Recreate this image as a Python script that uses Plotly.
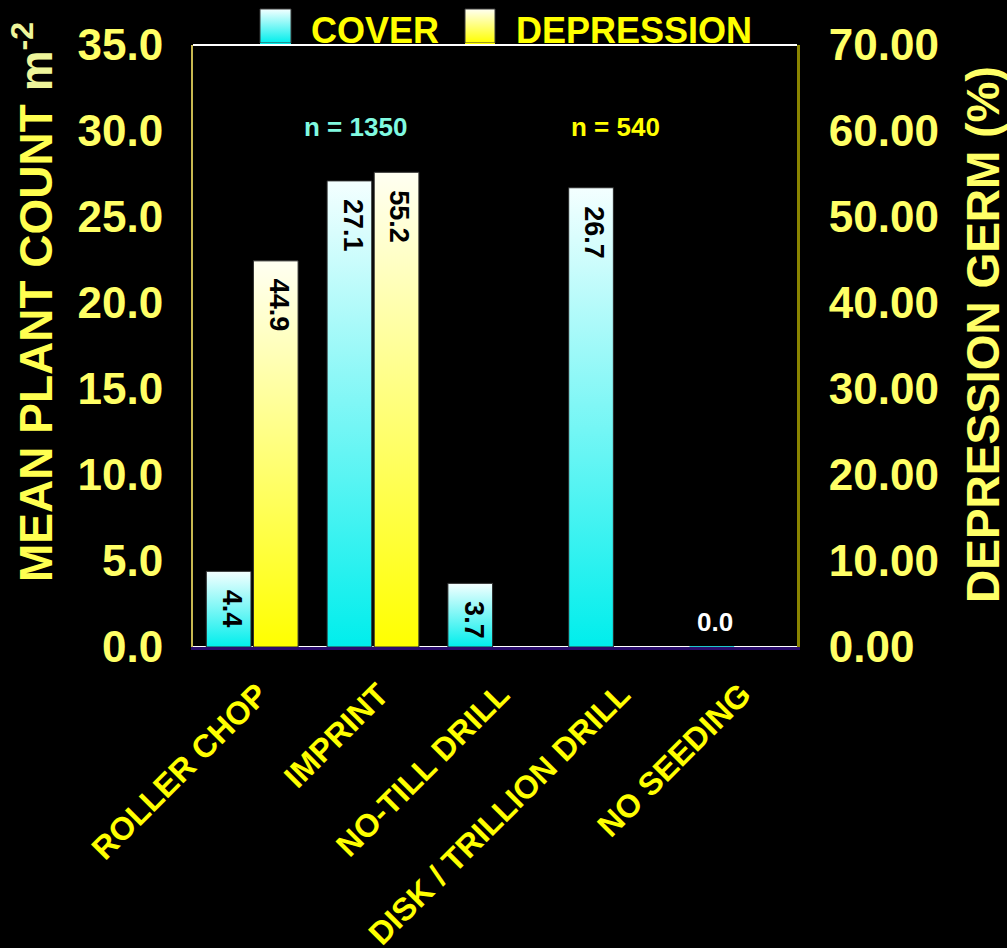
import plotly.graph_objects as go

# ---------------- data ----------------
categories = ["ROLLER CHOP", "IMPRINT", "NO-TILL DRILL", "DISK / TRILLION DRILL", "NO SEEDING"]
cover = [4.4, 27.1, 3.7, 26.7, 0.0]            # mean plant count m^-2 (left axis)
depression = [44.9, 55.2, None, None, None]     # depression germ % (right axis)
left_ticks = [0, 5, 10, 15, 20, 25, 30, 35]
right_ticks = [0, 10, 20, 30, 40, 50, 60, 70]
sample_labels = ["n = 1350", "n = 540"]
series_names = ["COVER", "DEPRESSION"]

# ---------------- layout constants ----------------
W, H = 1007, 948
PL, PR, PT, PB = 193, 797, 45, 647
FONT = "Liberation Sans"
BAR_W = 0.37
COVER_OFF = -0.205
DEPR_OFF = 0.185
CYAN_CS = [[0, "#00EEEC"], [1, "#F4FFFF"]]
YELL_CS = [[0, "#FFFF00"], [1, "#FFFFF2"]]

fig = go.Figure()


def add_bar(xc, v, yaxis, cs, edge):
    x0, x1 = xc - BAR_W / 2, xc + BAR_W / 2
    kw = dict(x=[x0, x0, x1, x1, x0], y=[0, v, v, 0, 0], mode="lines",
              fill="toself", xaxis="x", yaxis=yaxis, hoverinfo="skip",
              showlegend=False)
    if v > 0:
        kw["fillgradient"] = dict(type="vertical", colorscale=cs)
        kw["line"] = dict(color="#2a2a2a", width=1)
    else:
        kw["fillcolor"] = cs[0][1]
        kw["line"] = dict(color=edge, width=2)
    fig.add_trace(go.Scatter(**kw))


annotations = []


def add_label(xc, v, yref):
    if v > 0:
        annotations.append(dict(x=xc, y=v, xref="x", yref=yref, text=f"{v:.1f}",
                                textangle=90, yanchor="top", xanchor="center",
                                yshift=-16, xshift=3, showarrow=False,
                                font=dict(family=FONT, size=27, color="black", weight="bold")))
    else:
        annotations.append(dict(x=xc, y=v, xref="x", yref=yref, text=f"{v:.1f}",
                                yanchor="bottom", xanchor="center", yshift=8, xshift=3,
                                showarrow=False,
                                font=dict(family=FONT, size=26, color="white", weight="bold")))


for i, v in enumerate(cover):
    if v is None:
        continue
    add_bar(i + COVER_OFF, v, "y", CYAN_CS, "#20C8C8")
    add_label(i + COVER_OFF, v, "y")

for i, v in enumerate(depression):
    if v is None:
        continue
    add_bar(i + DEPR_OFF, v, "y2", YELL_CS, "#E0E000")
    add_label(i + DEPR_OFF, v, "y2")

# ---------------- legend (custom swatches on a full-page overlay axis) ----------------
legend_items = [(series_names[0], CYAN_CS, 260, 291, 375), (series_names[1], YELL_CS, 465, 495, 634)]
for name, cs, sx0, sx1, tx in legend_items:
    fig.add_trace(go.Scatter(x=[sx0, sx0, sx1, sx1, sx0], y=[43, 9, 9, 43, 43], mode="lines",
                             fill="toself", fillgradient=dict(type="vertical", colorscale=cs),
                             line=dict(color="#3a3a3a", width=1), xaxis="x3", yaxis="y3",
                             hoverinfo="skip", showlegend=False))
    fig.add_trace(go.Scatter(x=[sx0, sx1], y=[44, 44], mode="lines",
                             line=dict(color=cs[0][1], width=2), xaxis="x3", yaxis="y3",
                             hoverinfo="skip", showlegend=False))
    annotations.append(dict(x=tx / W, y=1 - 31 / H, xref="paper", yref="paper", text=name,
                            showarrow=False, xanchor="center", yanchor="middle",
                            font=dict(family=FONT, size=36, color="#FFFF00", weight="bold")))

# sample-size labels
annotations.append(dict(x=355 / W, y=1 - 127 / H, xref="paper", yref="paper", text=sample_labels[0],
                        showarrow=False, xanchor="center", yanchor="middle",
                        font=dict(family=FONT, size=26, color="#80FAE0", weight="bold")))
annotations.append(dict(x=615 / W, y=1 - 127 / H, xref="paper", yref="paper", text=sample_labels[1],
                        showarrow=False, xanchor="center", yanchor="middle",
                        font=dict(family=FONT, size=26, color="#FFFF00", weight="bold")))

# axis titles
annotations.append(dict(x=33 / W, y=1 - 302 / H, xref="paper", yref="paper",
                        text="MEAN PLANT COUNT <span style='color:#EEF59A'>m<sup>-2</sup></span>",
                        textangle=-90, showarrow=False, xanchor="center", yanchor="middle",
                        font=dict(family=FONT, size=46, color="#FFFF50", weight="bold")))
annotations.append(dict(x=983 / W, y=1 - 335 / H, xref="paper", yref="paper",
                        text="DEPRESSION GERM (%)",
                        textangle=-90, showarrow=False, xanchor="center", yanchor="middle",
                        font=dict(family=FONT, size=46, color="#FFFF66", weight="bold")))

xdom = [PL / W, PR / W]
ydom = [1 - PB / H, 1 - PT / H]

shapes = [
    dict(type="line", xref="paper", yref="paper", x0=PL / W, x1=PR / W, y0=1 - PT / H, y1=1 - PT / H,
         line=dict(color="white", width=2), layer="above"),
    dict(type="line", xref="paper", yref="y", x0=PL / W, x1=PR / W, y0=0, y1=0,
         ysizemode="pixel", yanchor=0, line=dict(color="white", width=2), layer="below"),
]

tickfont = dict(family=FONT, size=44, color="#FFFF66", weight="bold")

fig.update_layout(
    template="none",
    width=W, height=H,
    margin=dict(l=0, r=0, t=0, b=0, autoexpand=False),
    paper_bgcolor="black", plot_bgcolor="rgba(0,0,0,0)",
    showlegend=False,
    annotations=annotations,
    shapes=shapes,
    xaxis=dict(domain=xdom, range=[-0.5, 4.5], tickmode="array", tickvals=list(range(len(categories))),
               ticktext=categories, tickangle=-45, ticks="", showgrid=False, zeroline=False,
               showline=True, linecolor="#2A0C6C", linewidth=3, ticklabelstandoff=13,
               ticklabelshift=5,
               tickfont=dict(family=FONT, size=32, color="#FFFF00", weight="bold"),
               anchor="y", fixedrange=True, automargin=False),
    yaxis=dict(domain=ydom, range=[0, 35], tickmode="array", tickvals=left_ticks, tickformat=".1f",
               ticks="", showgrid=False, zeroline=False, showline=True, linecolor="#C8B850",
               linewidth=2, tickfont=tickfont, ticklabelstandoff=19, anchor="x", fixedrange=True,
               automargin=False),
    yaxis2=dict(domain=ydom, range=[0, 70], tickmode="array", tickvals=right_ticks, tickformat=".2f",
                overlaying="y", side="right", anchor="x", ticks="", showgrid=False, zeroline=False,
                showline=True, linecolor="#8A8500", linewidth=3, tickfont=tickfont,
                ticklabelstandoff=20, fixedrange=True, automargin=False),
    xaxis3=dict(domain=[0, 1], range=[0, W], visible=False, anchor="y3", fixedrange=True,
                automargin=False),
    yaxis3=dict(domain=[0, 1], range=[H, 0], visible=False, anchor="x3", fixedrange=True,
                automargin=False),
)

fig.write_html("out.html")
